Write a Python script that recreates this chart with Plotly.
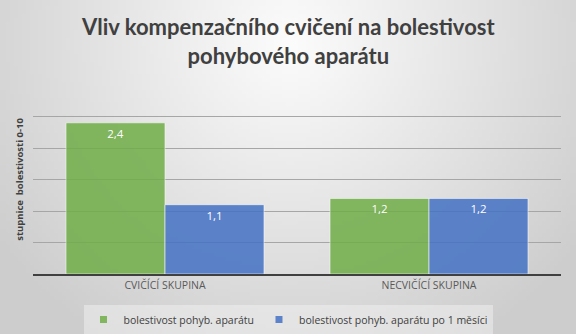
import base64
import struct
import zlib

import plotly.graph_objects as go

# Chart data
categories = ["CVIČÍCÍ SKUPINA", "NECVIČÍCÍ SKUPINA"]
series_names = ["bolestivost pohyb. aparátu", "bolestivost pohyb. aparátu po 1 měsíci"]
pain_before = [2.4, 1.2]
pain_after = [1.1, 1.2]
series_colors = ["#70AD47", "#4472C4"]

W, H = 576, 334
ML, MR, MT, MB = 33, 15, 85, 60
PW, PH = W - ML - MR, H - MT - MB


def gradient_png(w, h):
    """Soft radial gradient (light at top centre, grey towards the corners)."""
    cx, cy = w * 0.5, h * 0.12
    rx, ry = w * 0.62, h * 1.05
    light, dark = 252, 205
    rows = []
    for j in range(h):
        row = bytearray([0])
        for i in range(w):
            d = (((i - cx) / rx) ** 2 + ((j - cy) / ry) ** 2) ** 0.5
            d = min(d, 1.0)
            v = int(round(light + (dark - light) * d))
            row += bytes((v, v, v))
        rows.append(bytes(row))
    raw = b"".join(rows)

    def chunk(tag, data):
        c = struct.pack(">I", len(data)) + tag + data
        return c + struct.pack(">I", zlib.crc32(tag + data) & 0xFFFFFFFF)

    png = b"\x89PNG\r\n\x1a\n"
    png += chunk(b"IHDR", struct.pack(">IIBBBBB", w, h, 8, 2, 0, 0, 0))
    png += chunk(b"IDAT", zlib.compress(raw, 9))
    png += chunk(b"IEND", b"")
    return "data:image/png;base64," + base64.b64encode(png).decode()


fig = go.Figure()
for name, vals, col in zip(series_names, [pain_before, pain_after], series_colors):
    fig.add_trace(go.Bar(
        x=categories,
        y=vals,
        name=name,
        showlegend=False,
        marker=dict(color=col, opacity=0.85, line=dict(color="rgba(255,255,255,0.6)", width=1)),
        texttemplate="%{y:.1f}",
        textposition="inside",
        insidetextanchor="end",
        textfont=dict(family="Open Sans", size=11.5, color="white"),
        hoverinfo="skip",
    ))
    # small square legend key for the series
    fig.add_trace(go.Scatter(
        x=[None], y=[None], mode="markers", name=name,
        marker=dict(symbol="square", size=7, color=col, opacity=0.85),
        showlegend=True,
    ))

fig.update_layout(
    width=W,
    height=H,
    separators=", ",
    barmode="group",
    bargap=0.25,
    bargroupgap=0.0,
    paper_bgcolor="#e4e4e4",
    plot_bgcolor="rgba(0,0,0,0)",
    margin=dict(l=ML, r=MR, t=MT, b=MB, autoexpand=False),
    showlegend=True,
    legend=dict(
        orientation="h",
        xref="container",
        yref="container",
        x=0.5,
        xanchor="center",
        y=1 - 305 / H,
        yanchor="top",
        bgcolor="rgba(242,242,242,0.5)",
        font=dict(family="Open Sans", size=10.5, color="#404040"),
        itemwidth=30,
        tracegroupgap=0,
    ),
    annotations=[dict(
        text="<b>Vliv kompenzačního cvičení na bolestivost<br>pohybového aparátu</b>",
        xref="paper", yref="paper",
        x=(W / 2 - ML) / PW, y=1 + (MT - 11) / PH,
        xanchor="center", yanchor="top",
        showarrow=False,
        align="center",
        font=dict(family="Lato", size=22, color="#404040"),
    )],
    images=[dict(
        source=gradient_png(144, 84),
        xref="paper", yref="paper",
        x=-ML / PW, y=1 + MT / PH,
        sizex=W / PW, sizey=H / PH,
        xanchor="left", yanchor="top",
        sizing="stretch",
        layer="below",
    )],
)

fig.update_xaxes(
    showgrid=False,
    showline=True,
    linecolor="#404040",
    linewidth=2,
    ticks="",
    tickfont=dict(family="Open Sans", size=10.5, color="#595959"),
)
fig.update_yaxes(
    range=[0, 3],
    dtick=0.5,
    showticklabels=False,
    showgrid=True,
    gridcolor="#a6a6a6",
    gridwidth=1,
    zeroline=False,
    title=dict(
        text="<b>stupnice  bolestivosti 0-10</b>",
        font=dict(family="Open Sans", size=9.5, color="#404040"),
        standoff=6,
    ),
)

fig.write_html("out.html")
